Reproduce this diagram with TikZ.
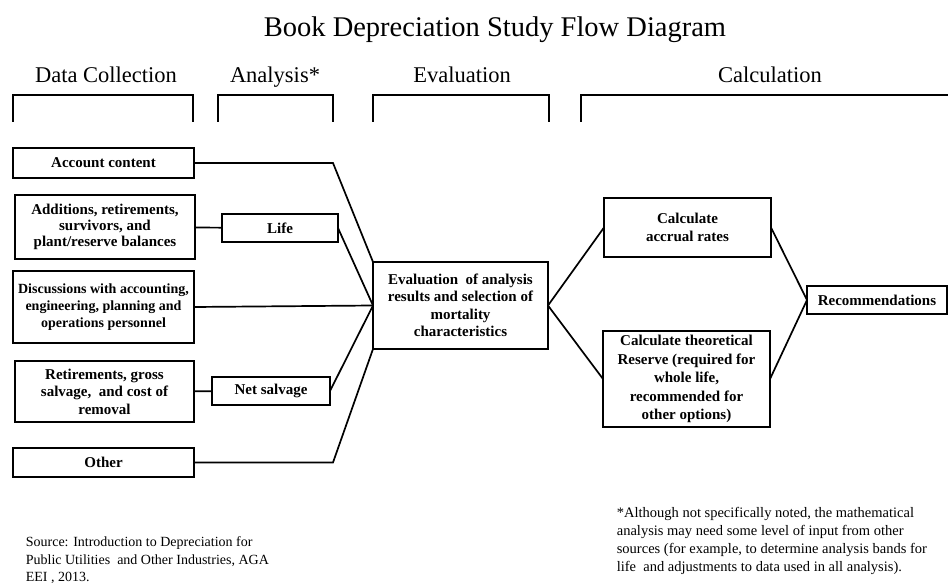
\documentclass[tikz,border=0pt]{standalone}
\usepackage{fontspec}
\setmainfont{Liberation Serif}
\usetikzlibrary{positioning}
\tikzset{title label/.style={font=\fontsize{28.5}{32}\selectfont}}
\tikzset{head labels/.style={font=\fontsize{22.5}{26}\selectfont}}
\tikzset{note labels/.style={font=\fontsize{14}{17.5}\selectfont,align=left,inner sep=0pt}}
\tikzset{step box/.style={draw,align=center,inner sep=0pt,outer sep=0pt,font=\bfseries\fontsize{15}{17.5}\selectfont}}

\begin{document}
\begin{tikzpicture}[x=1pt, y=-1pt, line width=1.7pt, line join=miter]
    \useasboundingbox (0,0) rectangle (948,583);
    %\draw[help lines, step=50] (0,0) grid (948,583);

    \node[title label] at (495, 30) (T){Book Depreciation Study Flow Diagram};

    % column heads and their brackets
    \node[head labels, anchor=base] at (106, 83) (H1){Data Collection};
    \node[head labels, anchor=base] at (275, 83) (H2){Analysis*};
    \node[head labels, anchor=base] at (462, 83) (H3){Evaluation};
    \node[head labels, anchor=base] at (770, 83) (H4){Calculation};
    \draw (13,122) |- (193,95) -- (193,122);
    \draw (218,122) |- (333,95) -- (333,122);
    \draw (373,122) |- (549,95) -- (549,122);
    \draw (581,122) |- (948,95);

    % data collection
    \node[step box, minimum width=181, minimum height=30] at (103.5, 163) (acct){Account content};
    \node[step box, minimum width=180, minimum height=64, font=\bfseries\fontsize{15}{16}\selectfont] at (105, 227) (addit){Additions, retirements,\\survivors, and\\plant/reserve balances};
    \node[step box, minimum width=181, minimum height=72, font=\bfseries\fontsize{14}{17}\selectfont] at (103.5, 307) (disc){Discussions with accounting,\\engineering, planning and\\operations personnel};
    \node[step box, minimum width=179, minimum height=61] at (104.5, 391.5) (retire){Retirements, gross\\salvage,\ \ and cost of\\removal};
    \node[step box, minimum width=181, minimum height=29] at (103.5, 462.5) (other){Other};

    % analysis
    \node[step box, minimum width=116, minimum height=28] at (280, 228) (life){Life};
    \node[step box, minimum width=118, minimum height=28] at (271, 391) (netsalv){Net salvage};

    % evaluation
    \node[step box, minimum width=175, minimum height=87] at (460.5, 305.5) (eval){Evaluation\ \ of analysis\\results and selection of\\mortality\\characteristics};

    % calculation
    \node[step box, minimum width=167, minimum height=59] at (687.5, 227.5) (accrual){Calculate\\accrual rates};
    \node[step box, minimum width=167, minimum height=96, font=\bfseries\fontsize{15}{18.5}\selectfont] at (686.5, 379) (theory){Calculate theoretical\\Reserve (required for\\whole life,\\recommended for\\other options)};
    \node[step box, minimum width=140, minimum height=28] at (877, 300) (recom){Recommendations};

    \draw (addit) -- (life);
    \draw (retire) -- (netsalv);

    \draw (acct.east) -- ++(139,0) -- (eval.north west);
    \draw (life.east) -- (eval.west);
    \draw (disc.east) -- (eval.west);
    \draw (netsalv.east) -- (eval.west);
    \draw (other.east) -- ++(139,0) -- (eval.south west);

    \draw (eval.east) -- (accrual.west);
    \draw (eval.east) -- (theory.west);
    \draw (accrual.east) -- (recom.west);
    \draw (theory.east) -- (recom.west);

    % notes
    \node[note labels, anchor=north west] at (25, 536) (src){Source: Introduction to Depreciation for\\Public Utilities\ \ and Other Industries, AGA\\EEI , 2013.};
    \node[note labels, anchor=north west, font=\fontsize{14.5}{18}\selectfont] at (616, 506) (fn){*Although not specifically noted, the mathematical\\analysis may need some level of input from other\\sources (for example, to determine analysis bands for\\life\ \ and adjustments to data used in all analysis).};

\end{tikzpicture}
\end{document}
